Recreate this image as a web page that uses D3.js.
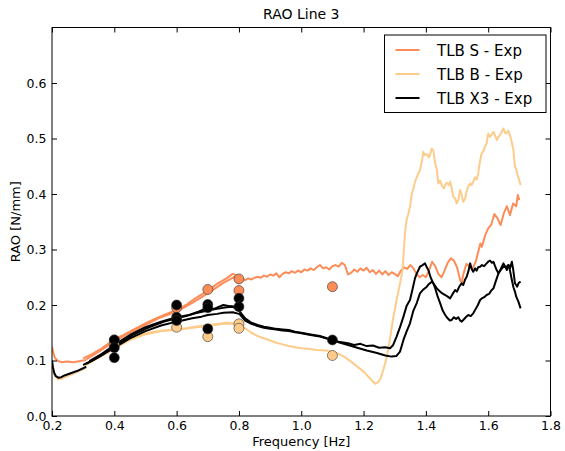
<!DOCTYPE html>
<html>
<head>
<meta charset="utf-8">
<script src="https://cdn.jsdelivr.net/npm/d3@7"></script>
<style>
  html, body { margin: 0; padding: 0; background: #fff; }
  svg { display: block; font-family: "DejaVu Sans", sans-serif; }
</style>
</head>
<body>
<svg id="chart" width="565" height="451"></svg>
<script>
// ---- axis ticks ----
const xTicks = [0.2, 0.4, 0.6, 0.8, 1.0, 1.2, 1.4, 1.6, 1.8];
const yTicks = [0.0, 0.1, 0.2, 0.3, 0.4, 0.5, 0.6];

// ---- TLB S - Exp : frequency sweeps ----
const sRunAFreq = [0.20, 0.205, 0.21, 0.22, 0.23, 0.25, 0.27, 0.29, 0.31];
const sRunAVal  = [0.125, 0.112, 0.104, 0.099, 0.097, 0.098, 0.097, 0.099, 0.101];
const sRunBFreq = [0.30, 0.33, 0.36, 0.40, 0.43, 0.46, 0.50, 0.53, 0.56, 0.60, 0.63, 0.66, 0.70, 0.73, 0.76, 0.78, 0.80];
const sRunBVal  = [0.104, 0.112, 0.122, 0.138, 0.146, 0.155, 0.167, 0.175, 0.182, 0.191, 0.200, 0.212, 0.226, 0.238, 0.248, 0.256, 0.252];
const sRunCFreq = [0.31, 0.35, 0.40, 0.45, 0.50, 0.55, 0.60, 0.65, 0.70, 0.75, 0.79];
const sRunCVal  = [0.102, 0.116, 0.134, 0.150, 0.164, 0.178, 0.188, 0.204, 0.221, 0.240, 0.252];
const sRunDFreq = [0.80, 0.81, 0.82, 0.83, 0.84, 0.85, 0.86, 0.87, 0.88, 0.89, 0.90, 0.91, 0.92, 0.93, 0.94, 0.95, 0.96, 0.97, 0.98, 0.99,
  1.00, 1.01, 1.02, 1.03, 1.04, 1.05, 1.06, 1.07, 1.08, 1.09, 1.10, 1.11, 1.12, 1.13, 1.14, 1.15, 1.16, 1.17, 1.18, 1.19,
  1.20, 1.21, 1.22, 1.23, 1.24, 1.25, 1.26, 1.27, 1.28, 1.29, 1.30, 1.31, 1.32, 1.33, 1.34, 1.35, 1.36, 1.37, 1.38, 1.39,
  1.40, 1.41, 1.42, 1.43, 1.44, 1.45, 1.46, 1.47, 1.48, 1.49, 1.50, 1.51, 1.515, 1.52, 1.53, 1.54, 1.55, 1.56, 1.57, 1.575,
  1.58, 1.59, 1.60, 1.61, 1.62, 1.63, 1.64, 1.65, 1.66, 1.67, 1.68, 1.69, 1.695, 1.70];
const sRunDVal  = [0.250, 0.247, 0.245, 0.248, 0.246, 0.249, 0.251, 0.249, 0.253, 0.251, 0.255, 0.253, 0.257, 0.250, 0.256, 0.259, 0.257, 0.261, 0.258, 0.262,
  0.259, 0.264, 0.262, 0.266, 0.263, 0.268, 0.272, 0.266, 0.268, 0.264, 0.270, 0.272, 0.269, 0.276, 0.272, 0.255, 0.258, 0.264, 0.260, 0.266,
  0.262, 0.267, 0.259, 0.263, 0.256, 0.262, 0.255, 0.261, 0.254, 0.259, 0.256, 0.252, 0.262, 0.268, 0.265, 0.272, 0.266, 0.256, 0.250, 0.254,
  0.250, 0.262, 0.278, 0.270, 0.256, 0.250, 0.262, 0.276, 0.284, 0.280, 0.268, 0.245, 0.239, 0.255, 0.274, 0.270, 0.266, 0.278, 0.300, 0.311,
  0.305, 0.325, 0.338, 0.345, 0.364, 0.356, 0.344, 0.365, 0.378, 0.362, 0.383, 0.378, 0.398, 0.389];

// ---- TLB B - Exp : frequency sweeps ----
const bRunAFreq = [0.20, 0.205, 0.21, 0.22, 0.23, 0.25, 0.27, 0.29, 0.31];
const bRunAVal  = [0.092, 0.078, 0.071, 0.066, 0.067, 0.072, 0.077, 0.082, 0.087];
const bRunBFreq = [0.30, 0.33, 0.36, 0.40, 0.43, 0.46, 0.50, 0.53, 0.56, 0.60, 0.63, 0.66, 0.70, 0.73, 0.76, 0.78, 0.80];
const bRunBVal  = [0.090, 0.100, 0.110, 0.124, 0.133, 0.141, 0.149, 0.152, 0.154, 0.156, 0.158, 0.161, 0.164, 0.166, 0.168, 0.167, 0.165];
const bRunCFreq = [0.31, 0.35, 0.40, 0.45, 0.50, 0.55, 0.60, 0.65, 0.70, 0.75, 0.79];
const bRunCVal  = [0.092, 0.105, 0.121, 0.137, 0.147, 0.153, 0.155, 0.159, 0.162, 0.166, 0.166];
const bRunDFreq = [0.80, 0.82, 0.84, 0.86, 0.88, 0.90, 0.92, 0.94, 0.96, 0.98, 1.00, 1.02, 1.05, 1.08, 1.10, 1.12, 1.14, 1.16, 1.18, 1.20,
  1.22, 1.237, 1.245, 1.255, 1.265, 1.275, 1.285, 1.296, 1.307, 1.317, 1.325, 1.333, 1.338, 1.344, 1.35, 1.355, 1.36, 1.365, 1.372, 1.381,
  1.387, 1.392, 1.397, 1.403, 1.41, 1.415, 1.419, 1.424, 1.43, 1.435, 1.44, 1.446, 1.452, 1.458, 1.463, 1.468, 1.474, 1.478, 1.483, 1.488,
  1.494, 1.499, 1.504, 1.51, 1.515, 1.52, 1.526, 1.531, 1.536, 1.542, 1.547, 1.552, 1.558, 1.563, 1.568, 1.574, 1.579, 1.585, 1.59, 1.595,
  1.60, 1.606, 1.612, 1.617, 1.622, 1.628, 1.633, 1.638, 1.643, 1.649, 1.654, 1.658, 1.664, 1.67, 1.675, 1.681, 1.686, 1.69, 1.693, 1.698, 1.704];
const bRunDVal  = [0.165, 0.158, 0.150, 0.144, 0.140, 0.136, 0.132, 0.129, 0.126, 0.124, 0.122, 0.121, 0.119, 0.118, 0.116, 0.112, 0.106, 0.098, 0.089, 0.080,
  0.068, 0.058, 0.060, 0.068, 0.086, 0.107, 0.140, 0.179, 0.212, 0.239, 0.262, 0.330, 0.353, 0.365, 0.380, 0.401, 0.410, 0.422, 0.432, 0.443,
  0.458, 0.476, 0.470, 0.472, 0.466, 0.474, 0.482, 0.478, 0.455, 0.445, 0.419, 0.424, 0.414, 0.410, 0.418, 0.420, 0.416, 0.422, 0.410, 0.395,
  0.392, 0.383, 0.390, 0.407, 0.398, 0.386, 0.392, 0.405, 0.414, 0.419, 0.416, 0.422, 0.430, 0.426, 0.437, 0.460, 0.473, 0.478, 0.486, 0.491,
  0.509, 0.503, 0.508, 0.512, 0.505, 0.497, 0.503, 0.506, 0.512, 0.518, 0.510, 0.509, 0.514, 0.506, 0.495, 0.479, 0.449, 0.445, 0.437, 0.428, 0.416];

// ---- TLB X3 - Exp : frequency sweeps ----
const xRunAFreq = [0.20, 0.203, 0.207, 0.212, 0.22, 0.23, 0.24, 0.26, 0.28, 0.30, 0.31];
const xRunAVal  = [0.100, 0.088, 0.078, 0.072, 0.069, 0.070, 0.073, 0.077, 0.081, 0.086, 0.089];
const xRunBFreq = [0.30, 0.33, 0.36, 0.40, 0.43, 0.46, 0.50, 0.53, 0.56, 0.60, 0.63, 0.66, 0.70, 0.73, 0.76, 0.78, 0.80];
const xRunBVal  = [0.092, 0.100, 0.110, 0.126, 0.136, 0.146, 0.157, 0.164, 0.170, 0.176, 0.180, 0.185, 0.190, 0.193, 0.196, 0.197, 0.190];
const xRunCFreq = [0.31, 0.35, 0.40, 0.45, 0.50, 0.55, 0.60, 0.65, 0.68, 0.70, 0.73, 0.75, 0.78, 0.80];
const xRunCVal  = [0.094, 0.106, 0.123, 0.140, 0.153, 0.163, 0.170, 0.176, 0.179, 0.182, 0.184, 0.186, 0.187, 0.184];
const xRunDFreq = [0.32, 0.36, 0.40, 0.45, 0.50, 0.55, 0.60, 0.64, 0.67, 0.70, 0.72, 0.75, 0.77, 0.80];
const xRunDVal  = [0.099, 0.112, 0.128, 0.146, 0.160, 0.170, 0.178, 0.182, 0.188, 0.195, 0.193, 0.200, 0.198, 0.196];
const xRunEFreq = [0.80, 0.82, 0.84, 0.86, 0.88, 0.90, 0.92, 0.94, 0.96, 0.98, 1.00, 1.03, 1.06, 1.09, 1.12, 1.15, 1.17, 1.19, 1.21, 1.23,
  1.25, 1.27, 1.285, 1.295, 1.306, 1.317, 1.328, 1.338, 1.349, 1.357, 1.365, 1.371, 1.381, 1.39, 1.397, 1.403, 1.408, 1.415, 1.424, 1.435,
  1.446, 1.455, 1.462, 1.47, 1.478, 1.486, 1.494, 1.50, 1.508, 1.515, 1.52, 1.526, 1.531, 1.537, 1.542, 1.547, 1.552, 1.558, 1.563, 1.568,
  1.574, 1.58, 1.587, 1.595, 1.60, 1.606, 1.612, 1.617, 1.622, 1.628, 1.633, 1.638, 1.643, 1.649, 1.654, 1.66, 1.665, 1.67, 1.676, 1.68,
  1.686, 1.69, 1.693, 1.698, 1.704];
const xRunEVal  = [0.190, 0.176, 0.168, 0.164, 0.161, 0.159, 0.157, 0.156, 0.155, 0.152, 0.150, 0.147, 0.144, 0.139, 0.134, 0.131, 0.128, 0.130, 0.126, 0.127,
  0.123, 0.124, 0.122, 0.128, 0.143, 0.160, 0.179, 0.198, 0.209, 0.228, 0.248, 0.257, 0.269, 0.272, 0.275, 0.268, 0.263, 0.250, 0.239, 0.230,
  0.224, 0.220, 0.218, 0.215, 0.212, 0.220, 0.227, 0.224, 0.234, 0.239, 0.236, 0.246, 0.251, 0.262, 0.275, 0.265, 0.260, 0.266, 0.262, 0.268,
  0.269, 0.272, 0.270, 0.275, 0.278, 0.280, 0.276, 0.278, 0.270, 0.262, 0.257, 0.262, 0.268, 0.275, 0.270, 0.263, 0.272, 0.266, 0.278, 0.265,
  0.239, 0.236, 0.233, 0.240, 0.242];
const xRunFFreq = [0.80, 0.82, 0.84, 0.86, 0.88, 0.90, 0.92, 0.94, 0.96, 0.98, 1.00, 1.03, 1.06, 1.09, 1.12, 1.15, 1.18, 1.21, 1.24, 1.27,
  1.29, 1.305, 1.317, 1.328, 1.338, 1.349, 1.36, 1.371, 1.381, 1.392, 1.403, 1.41, 1.419, 1.425, 1.43, 1.438, 1.446, 1.454, 1.462, 1.47,
  1.477, 1.483, 1.49, 1.497, 1.504, 1.51, 1.515, 1.52, 1.528, 1.536, 1.544, 1.552, 1.56, 1.567, 1.574, 1.58, 1.587, 1.595, 1.603, 1.61,
  1.617, 1.625, 1.633, 1.64, 1.649, 1.657, 1.665, 1.67, 1.676, 1.681, 1.686, 1.69, 1.697, 1.704];
const xRunFVal  = [0.185, 0.172, 0.166, 0.162, 0.159, 0.157, 0.156, 0.154, 0.153, 0.151, 0.149, 0.146, 0.143, 0.138, 0.133, 0.128, 0.123, 0.118, 0.114, 0.109,
  0.107, 0.108, 0.116, 0.137, 0.152, 0.167, 0.190, 0.204, 0.221, 0.228, 0.233, 0.238, 0.242, 0.238, 0.230, 0.215, 0.203, 0.190, 0.182, 0.176,
  0.172, 0.173, 0.178, 0.175, 0.178, 0.172, 0.170, 0.173, 0.178, 0.182, 0.180, 0.185, 0.193, 0.200, 0.209, 0.212, 0.214, 0.218, 0.220, 0.226,
  0.230, 0.244, 0.257, 0.263, 0.269, 0.268, 0.272, 0.262, 0.245, 0.232, 0.224, 0.215, 0.206, 0.194];

// ---- discrete test points ----
const sPointFreq = [0.4, 0.6, 0.7, 0.8, 0.8, 1.1];
const sPointVal  = [0.137, 0.195, 0.228, 0.247, 0.226, 0.233];
const bPointFreq = [0.4, 0.6, 0.7, 0.8, 0.8, 1.1];
const bPointVal  = [0.128, 0.160, 0.143, 0.166, 0.158, 0.109];
const xPointFreq = [0.4, 0.4, 0.4, 0.6, 0.6, 0.6, 0.7, 0.7, 0.7, 0.8, 0.8, 1.1];
const xPointVal  = [0.137, 0.123, 0.105, 0.200, 0.178, 0.172, 0.201, 0.195, 0.157, 0.212, 0.197, 0.137];

const seriesNames = ["TLB S - Exp", "TLB B - Exp", "TLB X3 - Exp"];
const seriesColors = ["#fc8d59", "#fdcc8a", "#000000"];

const zip = (f, v) => f.map((d, i) => [d, v[i]]);
const series = [
  { runs: [zip(sRunAFreq, sRunAVal), zip(sRunBFreq, sRunBVal), zip(sRunCFreq, sRunCVal), zip(sRunDFreq, sRunDVal)],
    points: zip(sPointFreq, sPointVal) },
  { runs: [zip(bRunAFreq, bRunAVal), zip(bRunBFreq, bRunBVal), zip(bRunCFreq, bRunCVal), zip(bRunDFreq, bRunDVal)],
    points: zip(bPointFreq, bPointVal) },
  { runs: [zip(xRunAFreq, xRunAVal), zip(xRunBFreq, xRunBVal), zip(xRunCFreq, xRunCVal), zip(xRunDFreq, xRunDVal),
           zip(xRunEFreq, xRunEVal), zip(xRunFFreq, xRunFVal)],
    points: zip(xPointFreq, xPointVal) }
];

// ---- layout ----
const margin = { left: 52, right: 14.5, top: 27.5, bottom: 35 };
const W = 565, H = 451;
const svg = d3.select("#chart");

const x = d3.scaleLinear().domain([0.2, 1.8]).range([margin.left, W - margin.right]);
const y = d3.scaleLinear().domain([0, 0.7]).range([H - margin.bottom, margin.top]);
const [x0, x1] = x.range();
const [y0, y1] = y.range();

svg.append("defs").append("clipPath").attr("id", "plot-clip")
  .append("rect").attr("x", x0).attr("y", y1).attr("width", x1 - x0).attr("height", y0 - y1);

const line = d3.line().x(d => x(d[0])).y(d => y(d[1]));
const plot = svg.append("g").attr("clip-path", "url(#plot-clip)");

// sweep lines
series.forEach((s, i) => {
  plot.append("g").selectAll("path").data(s.runs).join("path")
    .attr("d", line)
    .attr("fill", "none")
    .attr("stroke", seriesColors[i])
    .attr("stroke-width", 2)
    .attr("stroke-linejoin", "round");
});

// test points
series.forEach((s, i) => {
  plot.append("g").selectAll("circle").data(s.points).join("circle")
    .attr("cx", d => x(d[0]))
    .attr("cy", d => y(d[1]))
    .attr("r", 5)
    .attr("fill", seriesColors[i])
    .attr("stroke", "#333")
    .attr("stroke-width", 0.6);
});

// axes: inward ticks on all four sides
const tickLen = 5;
const fmt = d3.format(".1f");
const axisBottom = d3.axisBottom(x).tickValues(xTicks).tickSizeInner(-tickLen).tickSizeOuter(0).tickPadding(5.5).tickFormat(fmt);
const axisTop = d3.axisTop(x).tickValues(xTicks).tickSizeInner(-tickLen).tickSizeOuter(0).tickFormat("");
const axisLeft = d3.axisLeft(y).tickValues(yTicks).tickSizeInner(-tickLen).tickSizeOuter(0).tickPadding(5.5).tickFormat(fmt);
const axisRight = d3.axisRight(y).tickValues(yTicks).tickSizeInner(-tickLen).tickSizeOuter(0).tickFormat("");

function styleAxis(g) {
  g.select(".domain").remove();
  g.selectAll(".tick line").attr("stroke", "#000").attr("stroke-width", 1);
  g.selectAll(".tick text").attr("fill", "#000").style("font-size", "12.5px").style("font-family", "DejaVu Sans");
}
svg.append("g").attr("transform", `translate(0,${y0})`).call(axisBottom).call(styleAxis);
svg.append("g").attr("transform", `translate(0,${y1})`).call(axisTop).call(styleAxis);
svg.append("g").attr("transform", `translate(${x0},0)`).call(axisLeft).call(styleAxis);
svg.append("g").attr("transform", `translate(${x1},0)`).call(axisRight).call(styleAxis);

// frame
svg.append("rect")
  .attr("x", x0).attr("y", y1).attr("width", x1 - x0).attr("height", y0 - y1)
  .attr("fill", "none").attr("stroke", "#000").attr("stroke-width", 1);

// titles
svg.append("text").attr("x", (x0 + x1) / 2).attr("y", 19)
  .attr("text-anchor", "middle").style("font-size", "14px").text("RAO Line 3");
svg.append("text").attr("x", (x0 + x1) / 2).attr("y", 445.5)
  .attr("text-anchor", "middle").style("font-size", "13px").text("Frequency [Hz]");
svg.append("text")
  .attr("transform", `translate(20,${(y0 + y1) / 2}) rotate(-90)`)
  .attr("text-anchor", "middle").style("font-size", "13px").text("RAO [N/mm]");

// legend
const legend = svg.append("g").attr("transform", "translate(384.5,35)");
legend.append("rect").attr("width", 161.5).attr("height", 77.5)
  .attr("fill", "#fff").attr("stroke", "#000").attr("stroke-width", 1);
seriesNames.forEach((name, i) => {
  const row = legend.append("g").attr("transform", `translate(0,${15 + i * 24})`);
  row.append("line").attr("x1", 11).attr("x2", 35).attr("y1", 0).attr("y2", 0)
    .attr("stroke", seriesColors[i]).attr("stroke-width", 2);
  row.append("text").attr("x", 52.5).attr("y", 5.5).style("font-size", "15px").text(name);
});
</script>
</body>
</html>
